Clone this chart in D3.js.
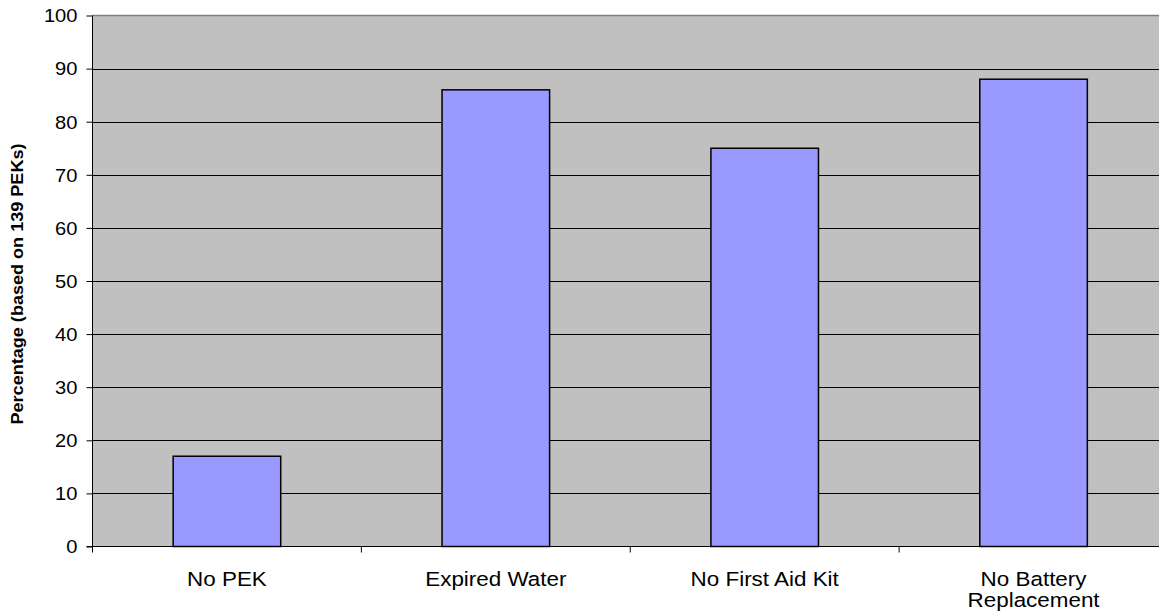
<!DOCTYPE html>
<html><head><meta charset="utf-8">
<script src="https://cdn.jsdelivr.net/npm/d3@7"></script>
<style>body{margin:0;background:#fff;overflow:hidden}svg{display:block}text{font-family:"Liberation Sans",Arial,sans-serif}</style>
</head><body>
<svg id="c" width="1159" height="616"></svg>
<script>
const categories = ["No PEK", "Expired Water", "No First Aid Kit", "No Battery Replacement"];
const labelLines = [["No PEK"], ["Expired Water"], ["No First Aid Kit"], ["No Battery", "Replacement"]];
const values = [17, 86, 75, 88];
const yTicks = [0, 10, 20, 30, 40, 50, 60, 70, 80, 90, 100];
const yTitle = "Percentage (based on 139 PEKs)";

const SX = 1.15; // horizontal stretch of text
const svg = d3.select("#c");
const L = 92.5, T = 15.5, B = 546.5, R = 1168;
const x = d3.scaleBand().domain(categories).range([L, R]).paddingInner(0).paddingOuter(0);
const y = d3.scaleLinear().domain([0, 100]).range([B, T]);

svg.append("rect").attr("x", L).attr("y", T).attr("width", R - L).attr("height", B - T).attr("fill", "#c0c0c0");

// gridlines
svg.append("g").selectAll("line").data(yTicks.filter(d => d > 0 && d < 100)).join("line")
  .attr("x1", L).attr("x2", R).attr("y1", d => Math.round(y(d)) + 0.5).attr("y2", d => Math.round(y(d)) + 0.5)
  .attr("stroke", "#000").attr("stroke-width", 1);
// top border
svg.append("line").attr("x1", L).attr("x2", R).attr("y1", T).attr("y2", T).attr("stroke", "#808080").attr("stroke-width", 1.5);

// bars
const bw = x.bandwidth() * 0.4;
svg.append("g").selectAll("rect").data(values).join("rect")
  .attr("x", (d, i) => x(categories[i]) + (x.bandwidth() - bw) / 2)
  .attr("y", d => y(d))
  .attr("width", bw)
  .attr("height", d => B - y(d))
  .attr("fill", "#9999ff").attr("stroke", "#000").attr("stroke-width", 1.5);

// y axis
const ya = svg.append("g").attr("transform", `translate(${L},0)`)
  .call(d3.axisLeft(y).tickValues(yTicks).tickSize(6).tickPadding(15));
ya.select(".domain").attr("stroke", "#000").attr("d", `M0,${T}V${B}`);
ya.selectAll(".tick line").attr("stroke", "#000");
ya.selectAll(".tick text")
  .attr("font-size", 17.5).attr("fill", "#000").attr("x", null).attr("dy", null)
  .attr("dominant-baseline", null)
  .attr("transform", `translate(-15,6.3) scale(${SX},1)`)
  .style("font-family", '"Liberation Sans",Arial,sans-serif');

// x axis
const xa = svg.append("g").attr("transform", `translate(0,${B})`);
xa.append("line").attr("x1", L - 6).attr("x2", R).attr("y1", 0).attr("y2", 0).attr("stroke", "#000");
const bounds = categories.map(c => x(c)).concat([R]);
xa.selectAll("line.t").data(bounds).join("line").attr("class", "t")
  .attr("x1", d => d).attr("x2", d => d).attr("y1", 0).attr("y2", 6).attr("stroke", "#000");
xa.selectAll("text").data(labelLines).join("text")
  .attr("transform", (d, i) => `translate(${x(categories[i]) + x.bandwidth() / 2},39) scale(${SX},1)`)
  .attr("text-anchor", "middle").attr("font-size", 19.5).attr("fill", "#000")
  .each(function(lines) {
    d3.select(this).selectAll("tspan").data(lines).join("tspan")
      .attr("x", 0).attr("dy", (d, j) => j === 0 ? 0 : 22).text(d => d);
  });

// y title
svg.append("text").attr("transform", `translate(23,${284}) rotate(-90)`)
  .attr("text-anchor", "middle").attr("font-size", 16).attr("font-weight", "bold").attr("fill", "#000")
  .attr("textLength", 281).attr("lengthAdjust", "spacingAndGlyphs").text(yTitle);
</script>
</body></html>
